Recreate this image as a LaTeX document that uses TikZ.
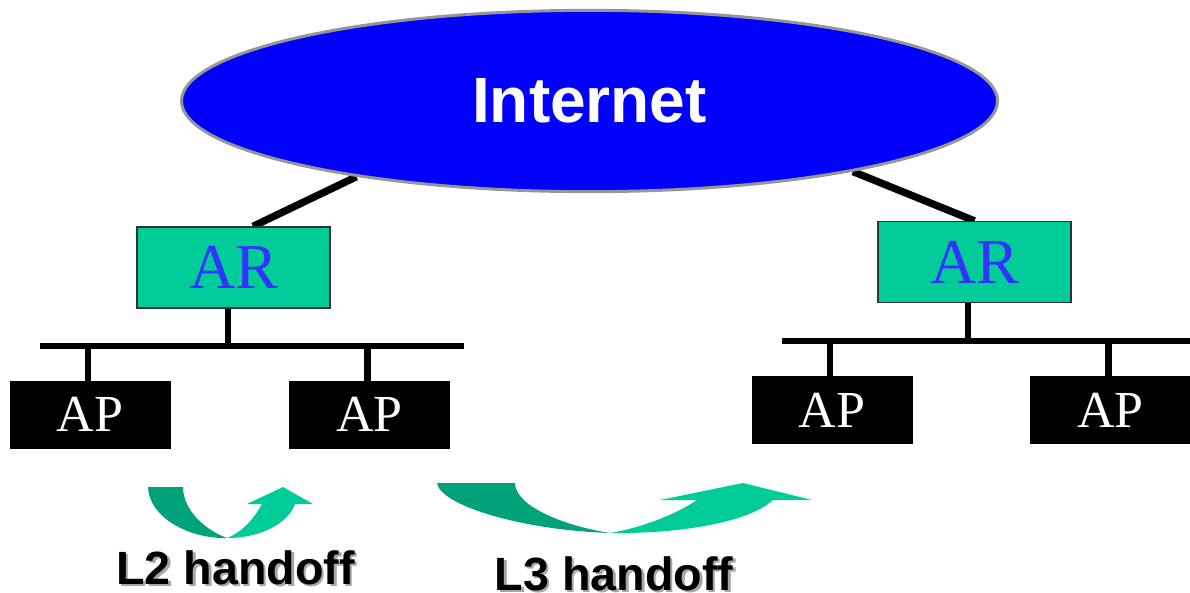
\documentclass[tikz,border=0pt]{standalone}
\usepackage{fontspec}
\setmainfont{Liberation Serif}
\newfontfamily\arialf{Liberation Sans}
\usetikzlibrary{shapes.geometric,calc,backgrounds}
\definecolor{argreen}{RGB}{0,204,153}
\definecolor{darkgreen}{RGB}{0,162,122}
\definecolor{artext}{RGB}{51,51,255}
\definecolor{inetblue}{RGB}{0,0,255}
\definecolor{rimgray}{RGB}{150,150,150}
\tikzset{
 inet/.style={ellipse, fill=inetblue, draw=rimgray, line width=2.25pt, minimum width=612pt, minimum height=136pt, inner sep=0pt, text=white, font=\arialf\bfseries\fontsize{48}{58}\selectfont},
 arbox/.style={rectangle, fill=argreen, draw=black!80, line width=1pt, minimum width=144.75pt, minimum height=60.75pt, inner sep=0pt, text=artext, font=\fontsize{48}{58}\selectfont},
 apbox/.style={rectangle, fill=black, draw=black, minimum width=120pt, minimum height=50pt, inner sep=0pt, text=white, font=\fontsize{39}{47}\selectfont},
 link/.style={line width=4.5pt},
 uplink/.style={line width=5.5pt},
 droplink/.style={line width=5pt},
 lbl/.style={font=\arialf\bfseries\fontsize{35}{42}\selectfont, text=black},
 shadowlbl/.style={lbl, text=black!35},
}
\begin{document}
\begin{tikzpicture}[x=0.75pt,y=-0.75pt]
\useasboundingbox (0,0) rectangle (1190,593);
\node[inet] (inet) at (589.5,101) {Internet};
\node[arbox] (ar1) at (233.5,267.5) {AR};
\node[arbox] (ar2) at (974.5,262) {AR};
\node[apbox] (ap1) at (90,414.5) {AP};
\node[apbox] (ap2) at (369.5,414.5) {AP};
\node[apbox] (ap3) at (832,410) {AP};
\node[apbox] (ap4) at (1110.5,410) {AP};
\coordinate (busL1) at (40,346);
\coordinate (busL2) at (464,346);
\coordinate (busR1) at (782,341);
\coordinate (busR2) at (1190,341);
\coordinate (ar1n) at ($(ar1.north)+(19.5,0)$);
\coordinate (ar1s) at ($(ar1.south)+(-5.5,0)$);
\coordinate (ar2s) at ($(ar2.south)+(-6.5,0)$);
\coordinate (ap1n) at ($(ap1.north)+(-2,0)$);
\coordinate (ap2n) at ($(ap2.north)+(-2,0)$);
\coordinate (ap3n) at ($(ap3.north)+(-2,0)$);
\coordinate (ap4n) at ($(ap4.north)+(-2,0)$);
\begin{scope}[on background layer]
\draw[uplink] (inet.198) -- (ar1n);
\draw[uplink] (inet.345) -- (ar2.north);
\end{scope}
\draw[droplink] (ar1s) -- (ar1s |- busL1);
\draw[droplink] (ar2s) -- (ar2s |- busR1);
\draw[link] (busL1) -- (busL2);
\draw[link] (busR1) -- (busR2);
\draw[droplink] (ap1n) -- (ap1n |- busL1);
\draw[droplink] (ap2n) -- (ap2n |- busL1);
\draw[droplink] (ap3n) -- (ap3n |- busR1);
\draw[droplink] (ap4n) -- (ap4n |- busR1);
% L2 handoff arrow
\fill[darkgreen] (148,487) .. controls (149,518) and (190,539) .. (227,538)
  .. controls (205,530) and (183,510) .. (183,487) -- cycle;
\fill[argreen] (227,538) .. controls (265,538) and (290,520) .. (295,504)
  -- (313,504) -- (283,487) -- (247,504) -- (262,504)
  .. controls (252,522) and (240,533) .. (227,538) -- cycle;
% L3 handoff arrow
\fill[darkgreen] (437,483) .. controls (440,505) and (520,530) .. (610,533)
  .. controls (560,525) and (515,505) .. (515,483) -- cycle;
\fill[argreen] (610,533) .. controls (680,534) and (750,522) .. (773,500)
  -- (812,500) -- (743,483) -- (660,500) -- (697,500)
  .. controls (675,515) and (640,528) .. (610,533) -- cycle;
\node[shadowlbl] at (238,570) {L2 handoff};
\node[lbl] (l2) at (235.5,567.5) {L2 handoff};
\node[shadowlbl] at (616.5,576) {L3 handoff};
\node[lbl] (l3) at (614,573.5) {L3 handoff};
\end{tikzpicture}
\end{document}
